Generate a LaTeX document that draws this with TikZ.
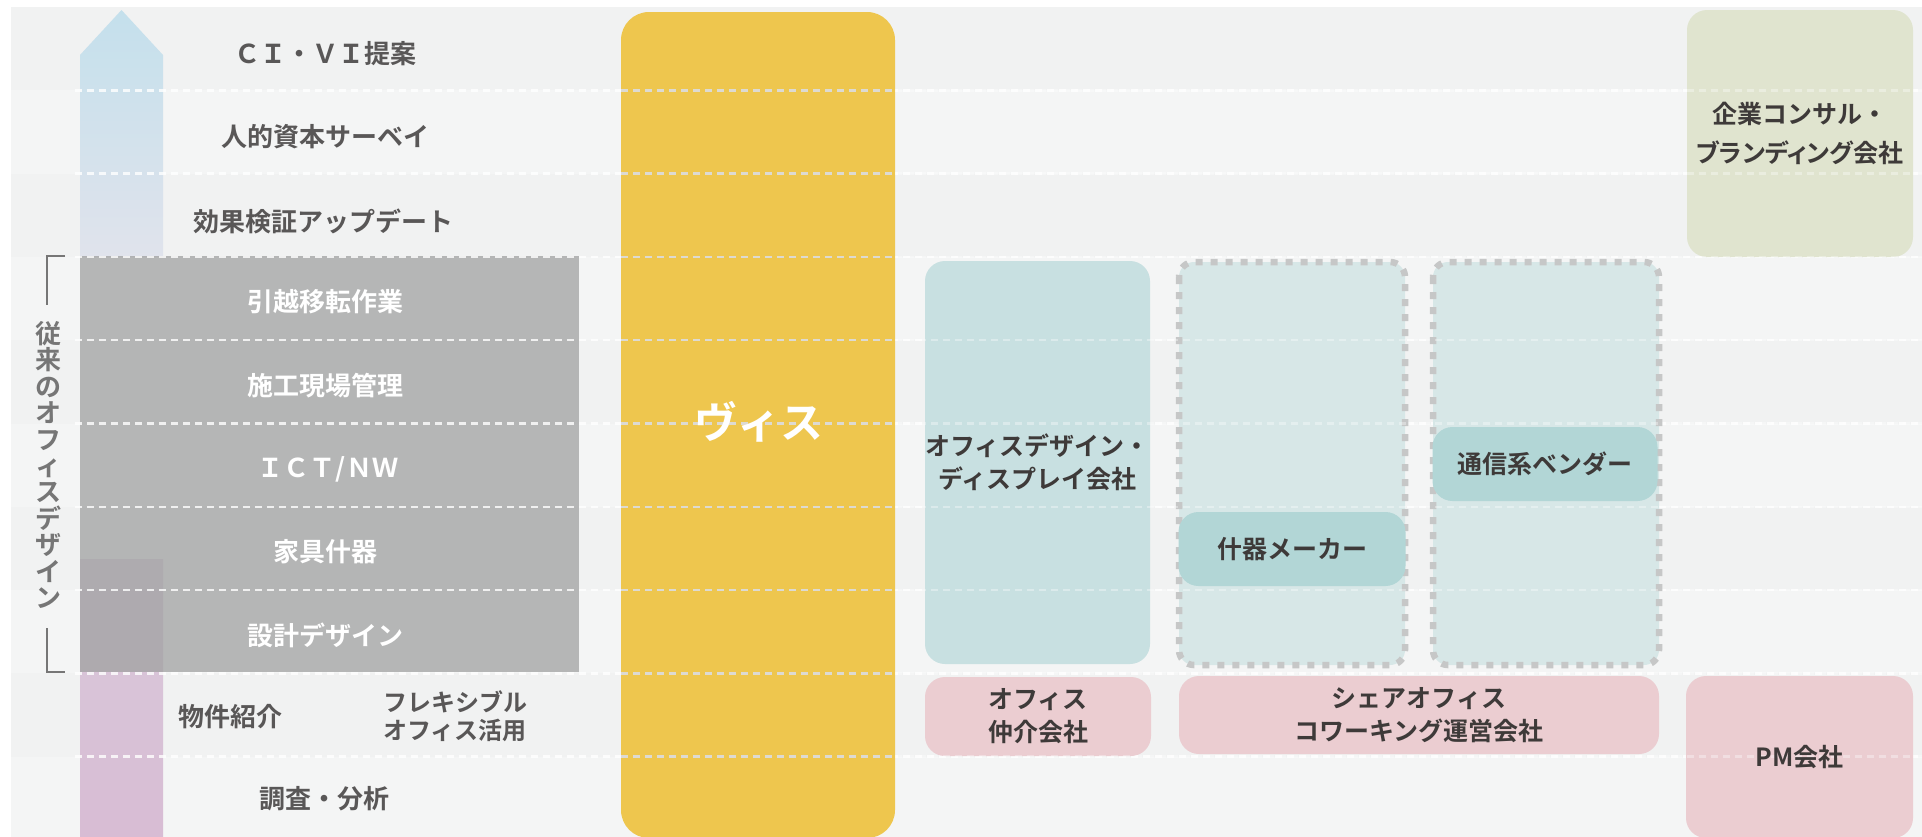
\documentclass[tikz,border=0pt]{standalone}
\usepackage{fontspec}
\newfontfamily\jp{Noto Sans CJK JP}[BoldFont={Noto Sans CJK JP Bold}]
\newfontfamily\jpp{Noto Sans CJK JP}[BoldFont={Noto Sans CJK JP Bold},RawFeature=+palt]

\definecolor{bgA}{HTML}{F1F2F2}
\definecolor{bgB}{HTML}{F4F5F5}
\definecolor{arrowtop}{HTML}{C4E0EC}
\definecolor{arrowmid}{HTML}{E0E3EC}
\definecolor{arrowlow}{HTML}{D9CADB}
\definecolor{arrowbot}{HTML}{D8BCD4}
\definecolor{blockgray}{HTML}{A0A1A1}
\definecolor{bracketgray}{HTML}{767676}
\definecolor{labelgray}{HTML}{595757}
\definecolor{textdark}{HTML}{3E3A39}
\definecolor{vis}{HTML}{EEC64E}
\definecolor{visline}{HTML}{DDDAD2}
\definecolor{tealA}{HTML}{C8E0E1}
\definecolor{tealB}{HTML}{D7E7E7}
\definecolor{tealC}{HTML}{B2D6D6}
\definecolor{dashgray}{HTML}{C6C7C7}
\definecolor{pinkbox}{HTML}{EBCDD1}
\definecolor{olivebox}{HTML}{E0E4CF}

\begin{document}
\begin{tikzpicture}[x=1pt, y=-1pt,
	rowline/.style={white, opacity=0.8, line width=2.5pt, dash pattern=on 7pt off 5pt},
	label/.style={text=labelgray, inner sep=0pt, font=\jp\bfseries\fontsize{26}{30}\selectfont},
	blocklabel/.style={label, text=white},
	firm/.style={rounded corners=20pt, text=textdark, align=center, inner sep=0pt, font=\jp\bfseries\fontsize{25}{33}\selectfont},
	partner/.style={draw=dashgray, line width=6.5pt, dash pattern=on 7pt off 8pt, rounded corners=15pt, fill=tealB}]
	\useasboundingbox (0,0) rectangle (1922,836);
	
	% Background with ten rows of alternating shade
	\fill[bgA] (11,7) rectangle (1922,840);
	\foreach \r in {1,3,...,9}
	\fill[bgB] (11,{7+83.3*\r}) rectangle (1922,{7+83.3*(\r+1)});
	
	% Upward arrow on the left, in two shaded parts
	\shade[top color=arrowtop, bottom color=arrowmid] (80,257) -- (80,55) -- (121.5,10) -- (163,55) -- (163,257) -- cycle;
	\shade[top color=arrowlow, bottom color=arrowbot] (80,559) rectangle (163,840);
	
	% Block of the classic office design services
	\fill[blockgray, opacity=0.75] (80,256) rectangle (579,672);
	
	% Dashed row lines
	\foreach \r in {1,...,9}
	\draw[rowline] (75,{7+83.3*\r}) -- (1922,{7+83.3*\r});
	
	% Bracket and vertical title
	\draw[bracketgray, line width=2pt] (65,256) -- (47,256) -- (47,305);
	\draw[bracketgray, line width=2pt] (47,628) -- (47,672) -- (65,672);
	\node[text=bracketgray, align=center, inner sep=0pt, font=\jp\bfseries\fontsize{26}{26.4}\selectfont] (oldtitle) at (48,465)
	{従\\来\\の\\オ\\フ\\ィ\\ス\\デ\\ザ\\イ\\ン};
	
	% Service labels, one per row
	\node[label] (civi) at (325,54) {ＣＩ・ＶＩ提案};
	\node[label] (survey) at (325,137) {人的資本サーベイ};
	\node[label] (verify) at (323,221) {効果検証アップデート};
	\node[blocklabel] (moving) at (325,302) {引越移転作業};
	\node[blocklabel] (construction) at (325,386) {施工現場管理};
	\node[blocklabel] (ict) at (328,469) {ＩＣＴ/ＮＷ};
	\node[blocklabel] (furniture) at (325,552) {家具什器};
	\node[blocklabel] (designwork) at (325,635) {設計デザイン};
	\node[label] (property) at (230,717) {物件紹介};
	\node[label, align=left, font=\jp\bfseries\fontsize{24}{28}\selectfont] (flexible) at (455,716) {フレキシブル\\オフィス活用};
	\node[label] (research) at (324,799) {調査・分析};
	
	% Our own column
	\fill[vis, rounded corners=28pt] (621,12) rectangle (895,838);
	\foreach \r in {1,...,9}
	\draw[rowline, visline, opacity=1] (621,{7+83.3*\r}) -- (895,{7+83.3*\r});
	\node[text=white, inner sep=0pt, font=\jp\bfseries\fontsize{43}{46}\selectfont] (visname) at (759,422) {ヴィス};
	
	% Other companies
	\node[firm, fill=tealA, minimum width=225pt, minimum height=403pt] (designfirm) at (1037.5,462.5) {オフィスデザイン・\\ディスプレイ会社};
	\draw[partner] (1179,262) rectangle (1405,665);
	\draw[partner] (1433,262) rectangle (1659,665);
	\node[firm, fill=tealC, minimum width=227pt, minimum height=74pt] (makerfirm) at (1292,549) {什器メーカー};
	\node[firm, fill=tealC, minimum width=225pt, minimum height=74pt] (vendorfirm) at (1545,464) {通信系ベンダー};
	\node[firm, fill=olivebox, minimum width=226pt, minimum height=247pt, font=\jp\bfseries\fontsize{25}{39}\selectfont] (consultfirm) at (1800,133.5) {企業コンサル・\\{\jpp\bfseries ブランディング会社}};
	\node[firm, fill=pinkbox, minimum width=226pt, minimum height=79pt] (agentfirm) at (1038,716.5) {オフィス\\仲介会社};
	\node[firm, fill=pinkbox, minimum width=480pt, minimum height=78pt] (sharefirm) at (1419,715) {シェアオフィス\\コワーキング運営会社};
	\node[firm, fill=pinkbox, minimum width=227pt, minimum height=162pt] (pmfirm) at (1799.5,757) {};
	
	% Row lines show faintly through the company boxes
	\foreach \r in {1,...,9}
	\draw[rowline, opacity=0.35] (895,{7+83.3*\r}) -- (1922,{7+83.3*\r});
	\node[firm] (pmname) at (pmfirm) {PM会社};
\end{tikzpicture}
\end{document}
